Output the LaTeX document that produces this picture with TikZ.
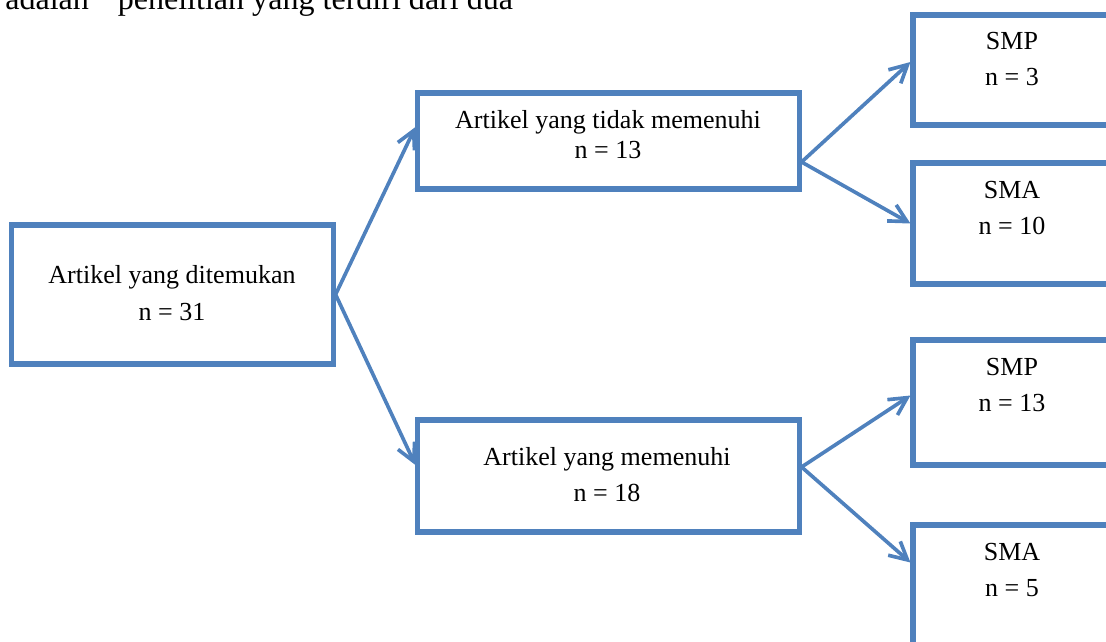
\documentclass[tikz,border=0pt]{standalone}
\usepackage{fontspec}
\setmainfont{Liberation Serif}
\usetikzlibrary{calc,arrows.meta}
\definecolor{boxblue}{HTML}{4F81BD}
\definecolor{ink}{HTML}{000000}
\tikzset{
  stage/.style={draw=boxblue, line width=3.6pt, inner sep=0pt},
  flow/.style={draw=boxblue, line width=2.6pt, -{Straight Barb[length=4.4mm,width=4.6mm]}},
  lab/.style={text=ink, font=\fontsize{18.5}{24.9}\selectfont, align=center, anchor=base, inner sep=0pt},
  intro/.style={text=ink, font=\fontsize{22.8}{27}\selectfont, anchor=base west, inner sep=0pt}
}
\begin{document}
\begin{tikzpicture}[x=0.025cm, y=-0.025cm]
  \useasboundingbox (0,0) rectangle (1106,641);
  \clip (0,0) rectangle (1106,641);
  % line of running text cut at the top
  \node[intro] (introline) at (5,9) {adalah\hspace{0.9em}penelitian yang terdiri dari dua};
  % boxes
  \node[stage, minimum width=8.025cm, minimum height=3.475cm] (found) at (172.5,294.5) {};
  \node[stage, minimum width=9.525cm, minimum height=2.4cm] (notmet) at (608.5,141) {};
  \node[stage, minimum width=9.525cm, minimum height=2.8cm] (met) at (608.5,476) {};
  \node[stage, minimum width=4.95cm, minimum height=2.75cm] (smp1) at (1012,70) {};
  \node[stage, minimum width=4.95cm, minimum height=3.025cm] (sma1) at (1012,223.5) {};
  \node[stage, minimum width=4.95cm, minimum height=3.125cm] (smp2) at (1012,402.5) {};
  \node[stage, minimum width=4.95cm, minimum height=3.125cm] (sma2) at (1012,587.5) {};
  % texts (placed at the baseline of the last line)
  \node[lab] (foundtxt) at (172,320) {Artikel yang ditemukan\\[1.4pt] n = 31};
  \node[lab] (notmettxt) at (608,158) {Artikel yang tidak memenuhi\\[-3.6pt] n = 13};
  \node[lab] (mettxt) at (607,501) {Artikel yang memenuhi\\[0.7pt] n = 18};
  \node[lab] (smp1txt) at (1012,85) {SMP\\ n = 3};
  \node[lab] (sma1txt) at (1012,234) {SMA\\ n = 10};
  \node[lab] (smp2txt) at (1012,411) {SMP\\ n = 13};
  \node[lab] (sma2txt) at (1012,596) {SMA\\ n = 5};
  % arrows
  \draw[flow] (found.east) -- ($(notmet.west)+(0,-14)$);
  \draw[flow] (found.east) -- ($(met.west)+(0,-11)$);
  \draw[flow] ($(notmet.east)+(0,21)$) -- ($(smp1.west)+(0,-8)$);
  \draw[flow] ($(notmet.east)+(0,21)$) -- (sma1.west);
  \draw[flow] ($(met.east)+(0,-9)$) -- ($(smp2.west)+(0,-7)$);
  \draw[flow] ($(met.east)+(0,-9)$) -- ($(sma2.west)+(0,-25)$);
\end{tikzpicture}
\end{document}
